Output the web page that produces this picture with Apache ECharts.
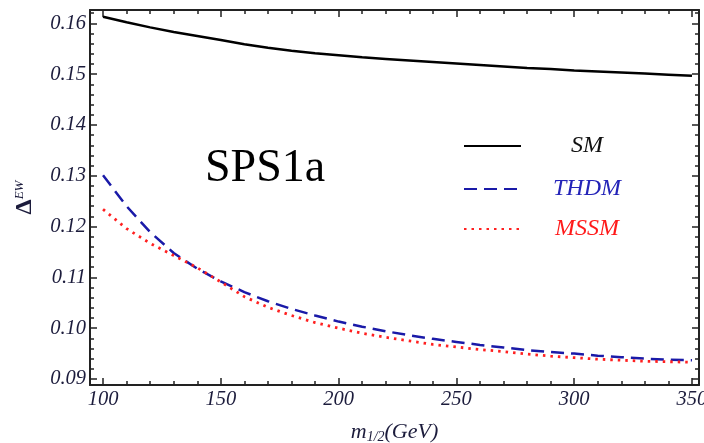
<!DOCTYPE html>
<html>
<head>
<meta charset="utf-8">
<script src="https://cdn.jsdelivr.net/npm/echarts@6/dist/echarts.min.js"></script>
<style>html,body{margin:0;padding:0;background:#fff}#c{width:704px;height:443px}</style>
</head>
<body>
<div id="c"></div>
<script>
const mHalf = [100,110,120,130,140,150,160,170,180,190,200,210,220,230,240,250,260,270,280,290,300,310,320,330,340,350];
const smValues   = [0.1613,0.1602,0.1592,0.1583,0.1575,0.1567,0.1559,0.1552,0.1546,0.1541,0.1537,0.1533,0.1530,0.1527,0.1524,0.1521,0.1518,0.1515,0.1512,0.1510,0.1507,0.1505,0.1503,0.1501,0.1499,0.1497];
const thdmValues = [0.1301,0.1240,0.1189,0.1148,0.1117,0.1092,0.1071,0.1053,0.1038,0.1025,0.1013,0.1003,0.0994,0.0986,0.0979,0.0973,0.0967,0.0962,0.0957,0.0953,0.0950,0.0946,0.0943,0.0940,0.0938,0.0937];
const mssmValues = [0.1234,0.1196,0.1167,0.1143,0.1119,0.1091,0.1062,0.1041,0.1025,0.1011,0.1000,0.0990,0.0982,0.0975,0.0968,0.0963,0.0958,0.0954,0.0949,0.0945,0.0942,0.0939,0.0937,0.0935,0.0934,0.0933];
const xTicks = [100,150,200,250,300,350];
const yTicks = [0.09,0.10,0.11,0.12,0.13,0.14,0.15,0.16];

const xMinor = []; for (let v = 100; v <= 350; v += 10) xMinor.push(v);
const yMinor = []; for (let i = 44; i <= 162; i += 2) yMinor.push(i / 1000);

const XMIN = 94.47, XMAX = 352.98, YMIN = 0.08882, YMAX = 0.16262;
const frame = '#222';
const labFont = {fontFamily:'Liberation Serif', fontStyle:'italic', fontSize:20.5, color:'#1c1c3c'};

function xAx(pos, major, showLabel) {
  return {
    type:'value', position:pos, min:XMIN, max:XMAX, splitLine:{show:false},
    axisLine:{show:major, onZero:false, lineStyle:{color:frame, width:2}},
    axisTick:{show:true, inside:true, length: major?7:4, lineStyle:{color:frame, width:1.5},
      customValues: major ? xTicks : xMinor},
    axisLabel: showLabel ? Object.assign({show:true, margin:5, customValues:xTicks, formatter:v=>String(v)}, labFont) : {show:false},
    name: showLabel ? '{m|m}{s|1/2}{t|(GeV)}' : '',
    nameLocation:'middle', nameGap:35,
    nameTextStyle:{rich:{
      m:{fontFamily:'Liberation Serif', fontStyle:'italic', fontSize:22, color:'#1c1c3c'},
      s:{fontFamily:'Liberation Serif', fontStyle:'italic', fontSize:14, color:'#1c1c3c', verticalAlign:'bottom', padding:[10,0,0,0]},
      t:{fontFamily:'Liberation Serif', fontStyle:'italic', fontSize:22, color:'#1c1c3c'}
    }}
  };
}
function yAx(pos, major, showLabel) {
  return {
    type:'value', position:pos, min:YMIN, max:YMAX, splitLine:{show:false},
    axisLine:{show:major, onZero:false, lineStyle:{color:frame, width:2}},
    axisTick:{show:true, inside:true, length: major?7:4, lineStyle:{color:frame, width:1.5},
      customValues: major ? yTicks : yMinor},
    axisLabel: showLabel ? Object.assign({show:true, margin:4, customValues:yTicks, formatter:v=>v.toFixed(2)}, labFont) : {show:false},
    name: showLabel ? '{d|Δ}{e|EW}' : '',
    nameLocation:'middle', nameGap:53, nameRotate:90,
    nameTextStyle:{rich:{
      d:{fontFamily:'Liberation Serif', fontSize:24, fontWeight:'bold', color:'#1c1c3c'},
      e:{fontFamily:'Liberation Serif', fontStyle:'italic', fontSize:13, color:'#1c1c3c', verticalAlign:'top', padding:[0,0,10,0]}
    }}
  };
}

const legendFont = {fontFamily:'Liberation Serif', fontStyle:'italic', fontSize:24};
function leg(name, top, color, pad) {
  return {
    data:[name], left:463, top:top, padding:0, orient:'vertical',
    itemWidth:57, itemHeight:14, selectedMode:false,
    itemStyle:{opacity:0, borderWidth:0},
    formatter: '{c|' + name + '}',
    textStyle:{rich:{c:Object.assign({color:color, padding:[0,0,0,pad]}, legendFont)}}
  };
}

const chart = echarts.init(document.getElementById('c'), null, {renderer:'canvas'});
chart.setOption({
  animation:false,
  backgroundColor:'#fff',
  grid:{left:90, right:5, top:10, bottom:58, outerBoundsMode:'none', containLabel:false},
  title:{text:'SPS1a', left:205, top:146, padding:0,
    textStyle:{fontFamily:'Liberation Serif', fontWeight:'normal', fontSize:46, color:'#000'}},
  legend:[
    leg('SM', 134, '#111', 45),
    leg('THDM', 177, '#2424b8', 27),
    leg('MSSM', 217, '#ff1a1a', 29)
  ],
  xAxis:[xAx('bottom', true, true), xAx('bottom', false, false), xAx('top', true, false), xAx('top', false, false)],
  yAxis:[yAx('left', true, true), yAx('left', false, false), yAx('right', true, false), yAx('right', false, false)],
  series:[
    {name:'SM', type:'line', symbol:'none', smooth:false,
     data:mHalf.map((m,i)=>[m, smValues[i]]),
     lineStyle:{color:'#000', width:2.5}, itemStyle:{color:'#000'}},
    {name:'THDM', type:'line', symbol:'none', smooth:false,
     data:mHalf.map((m,i)=>[m, thdmValues[i]]),
     lineStyle:{color:'#1a1aa8', width:2.5, type:[13,7]}, itemStyle:{color:'#1a1aa8'}},
    {name:'MSSM', type:'line', symbol:'none', smooth:false,
     data:mHalf.map((m,i)=>[m, mssmValues[i]]),
     lineStyle:{color:'#ff2020', width:2.8, type:[2.5,5]}, itemStyle:{color:'#ff2020'}}
  ]
});
</script>
</body>
</html>
